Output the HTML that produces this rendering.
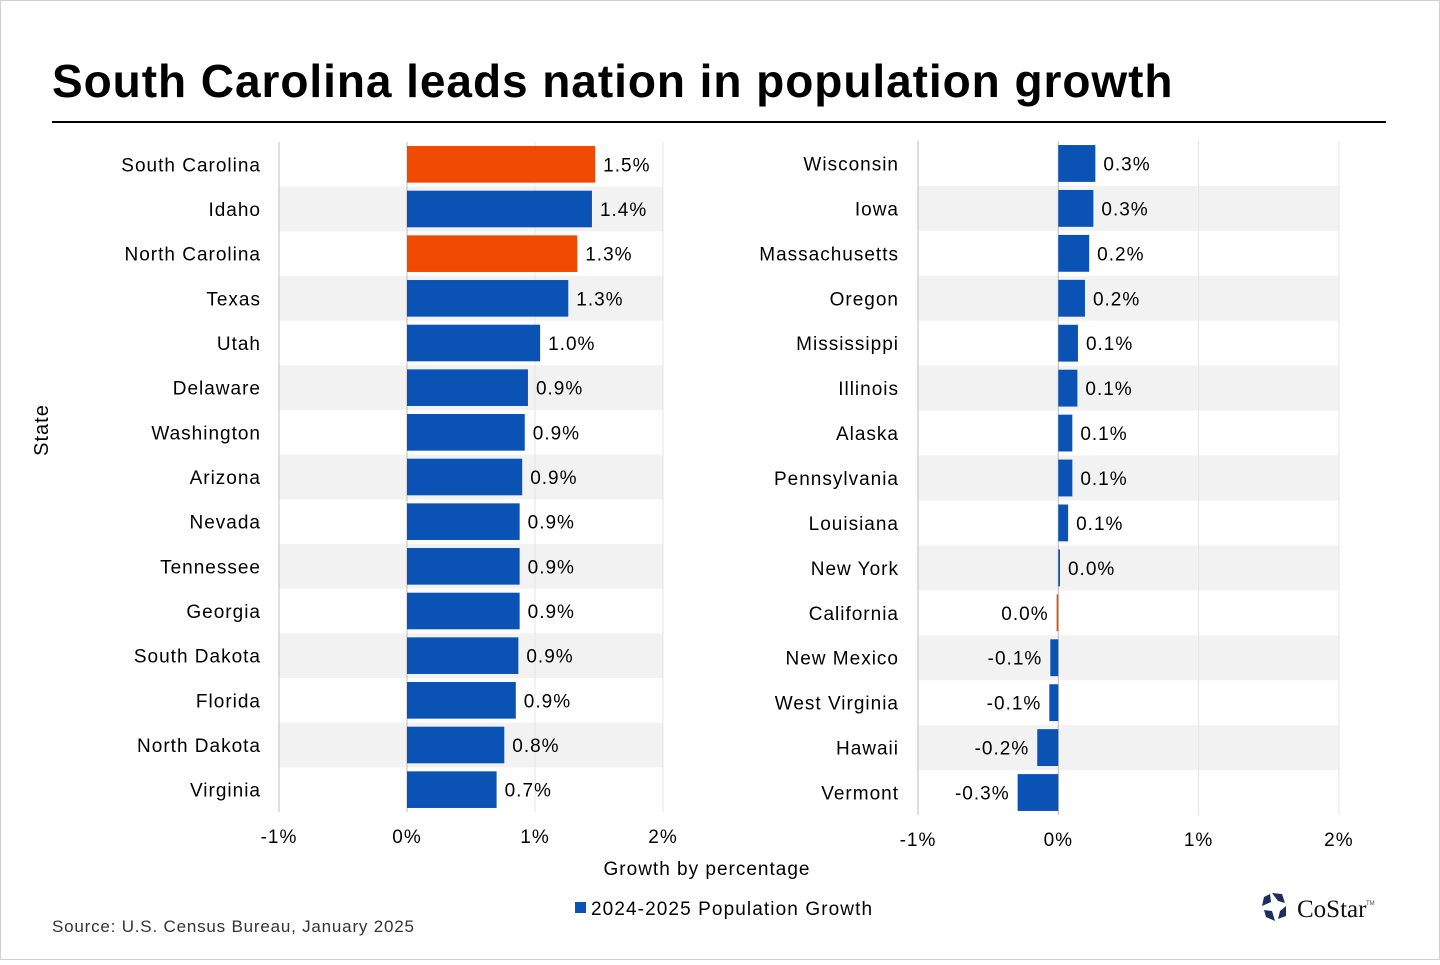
<!DOCTYPE html>
<html><head><meta charset="utf-8">
<style>
html,body{margin:0;padding:0;background:#fff;}
body{width:1440px;height:960px;position:relative;overflow:hidden;font-family:"Liberation Sans",Arial,sans-serif;}
svg text{font-family:"Liberation Sans",Arial,sans-serif;letter-spacing:1px;}
</style></head>
<body>
<svg id="chart" width="1440" height="960" xmlns="http://www.w3.org/2000/svg">
<rect x="0.5" y="0.5" width="1439" height="959" fill="#fff" stroke="#d0d0d0"/>
<text x="52" y="97" font-size="46" font-weight="bold" fill="#000" style="letter-spacing:0.95px">South Carolina leads nation in population growth</text>
<line x1="52" y1="122" x2="1386" y2="122" stroke="#000" stroke-width="2"/>
<text transform="translate(48,430) rotate(-90)" text-anchor="middle" font-size="20" fill="#000">State</text>
<text x="707" y="875" text-anchor="middle" font-size="19" fill="#000">Growth by percentage</text>
<rect x="575" y="902" width="11" height="11" fill="#0a52b3"/>
<text x="591" y="915" font-size="19" fill="#000" style="letter-spacing:1.1px">2024-2025 Population Growth</text>
<text x="52" y="932" font-size="17" fill="#333" style="letter-spacing:0.8px">Source: U.S. Census Bureau, January 2025</text>
<g>
<g transform="translate(1276,907)" fill="#1c2f5e">
<path d="M-4,-14 L6,-13 L9,-4 L2,-6 Z"/>
<path d="M10,-1 L10,9 L2,12 L4,4 Z"/>
<path d="M-1,14 L-10,10 L-12,3 L-4,4 Z"/>
<path d="M-14,-1 L-12,-10 L-6,-13 L-5,-5 Z"/>
</g>
<text x="1297" y="917" font-size="25" fill="#111" style="font-family:'Liberation Serif',serif;letter-spacing:0">CoStar</text>
<text x="1366" y="905" font-size="6" fill="#444" style="letter-spacing:0">TM</text>
</g>
<g id="left"></g>
<g id="right"></g>
</svg>
<script>
const leftStates = ["South Carolina","Idaho","North Carolina","Texas","Utah","Delaware","Washington","Arizona","Nevada","Tennessee","Georgia","South Dakota","Florida","North Dakota","Virginia"];
const leftValues = [1.47,1.445,1.33,1.26,1.04,0.945,0.92,0.90,0.88,0.88,0.88,0.87,0.85,0.76,0.70];
const leftLabels = ["1.5%","1.4%","1.3%","1.3%","1.0%","0.9%","0.9%","0.9%","0.9%","0.9%","0.9%","0.9%","0.9%","0.8%","0.7%"];
const leftHighlight = [true,false,true,false,false,false,false,false,false,false,false,false,false,false,false];
const rightStates = ["Wisconsin","Iowa","Massachusetts","Oregon","Mississippi","Illinois","Alaska","Pennsylvania","Louisiana","New York","California","New Mexico","West Virginia","Hawaii","Vermont"];
const rightValues = [0.264,0.25,0.22,0.19,0.14,0.136,0.10,0.10,0.07,0.012,-0.012,-0.057,-0.064,-0.15,-0.29];
const rightLabels = ["0.3%","0.3%","0.2%","0.2%","0.1%","0.1%","0.1%","0.1%","0.1%","0.0%","0.0%","-0.1%","-0.1%","-0.2%","-0.3%"];
const rightHighlight = [false,false,false,false,false,false,false,false,false,false,true,false,false,false,false];
const tickValues = [-1,0,1,2];
const tickLabels = ["-1%","0%","1%","2%"];

const NS="http://www.w3.org/2000/svg";
function mk(parent,tag,attrs){const e=document.createElementNS(NS,tag);for(const k in attrs)e.setAttribute(k,attrs[k]);parent.appendChild(e);return e;}

function drawPanel(g,cfg,states,values,labels,hl,prefix){
  const x=v=>cfg.x0+(v-(-1))*cfg.pxPer;
  const n=states.length;
  const step=(cfg.bottom-cfg.top)/n;
  const y=i=>cfg.top+i*step;
  const left=x(-1), right=x(2);
  for(let i=0;i<n;i++){
    if(i%2===1){
      const r=mk(g,"rect",{x:left,y:y(i),width:right-left,height:step,fill:"#f2f2f2"});
      
      
    }
  }
  tickValues.forEach((t,j)=>{
    const gl=mk(g,"line",{x1:x(t),x2:x(t),y1:cfg.top,y2:cfg.bottom,stroke:t===-1?"#bfbfbf":"#e4e4e4","stroke-width":1});
    
    
    const tl=mk(g,"text",{x:x(t),y:cfg.tickY,"text-anchor":"middle","font-size":19,fill:"#000"});
    tl.textContent=tickLabels[j];
    
    
  });
  const z=mk(g,"line",{x1:x(0),x2:x(0),y1:cfg.top,y2:cfg.bottom,stroke:"#bfbfbf","stroke-width":1});
  
  
  const bh=step*0.82;
  for(let i=0;i<n;i++){
    const v=values[i];
    const x1=Math.min(x(0),x(v)), w=Math.max(Math.abs(x(v)-x(0)),1.5);
    const cy=y(i)+step/2;
    const b=mk(g,"rect",{x:x1,y:cy-bh/2,width:w,height:bh,fill:hl[i]?"#ee4a00":"#0a52b3"});
    
    
    const lab=mk(g,"text",{x:v>=0?x(v)+8:x(v)-8,y:cy+7,"text-anchor":v>=0?"start":"end","font-size":19,fill:"#000"});
    lab.textContent=labels[i];
    
    
    const s=mk(g,"text",{x:cfg.catX,y:cy+7,"text-anchor":"end","font-size":19,fill:"#000"});
    s.textContent=states[i];
    
    
  }
}
drawPanel(document.getElementById("left"),{x0:279,pxPer:128,top:142,bottom:812,tickY:843,catX:261},leftStates,leftValues,leftLabels,leftHighlight,"left-");
drawPanel(document.getElementById("right"),{x0:918,pxPer:140.3,top:141,bottom:815,tickY:846,catX:899},rightStates,rightValues,rightLabels,rightHighlight,"right-");
</script>
</body></html>
